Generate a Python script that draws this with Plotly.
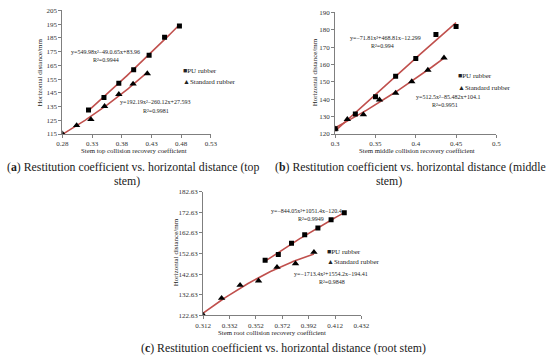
import numpy as np
import plotly.graph_objects as go

# ---------------- data ----------------
# (a) top stem
a_pu_x = [0.324, 0.350, 0.375, 0.400, 0.426, 0.452, 0.477]
a_pu_y = [132.5, 141.6, 152.0, 161.8, 172.3, 185.4, 193.6]
a_std_x = [0.280, 0.304, 0.328, 0.351, 0.375, 0.399, 0.423]
a_std_y = [115.3, 121.3, 125.6, 135.2, 143.9, 151.5, 159.0]
# (b) middle stem
b_pu_x = [0.300, 0.325, 0.350, 0.375, 0.400, 0.425, 0.450]
b_pu_y = [123.0, 131.5, 141.5, 153.3, 163.5, 177.3, 181.9]
b_std_x = [0.300, 0.315, 0.335, 0.355, 0.375, 0.395, 0.415, 0.435]
b_std_y = [123.0, 128.5, 131.2, 139.7, 143.6, 150.2, 156.8, 163.8]
# (c) root stem
c_pu_x = [0.359, 0.369, 0.379, 0.389, 0.399, 0.409, 0.419]
c_pu_y = [149.4, 152.2, 157.6, 161.7, 165.0, 169.0, 172.4]
c_std_x = [0.312, 0.326, 0.340, 0.354, 0.368, 0.382, 0.396]
c_std_y = [122.8, 131.0, 137.3, 139.4, 146.0, 147.8, 153.3]

series_names = ["PU rubber", "Standard rubber"]
eq_texts = {
    "a_pu": ["y=549.98x²−49.0.65x+83.96", "R²=0.9944"],
    "a_std": ["y=192.19x²−260.12x+27.593", "R²=0.9981"],
    "b_pu": ["y=−71.81x²+468.81x−12.299", "R²=0.994"],
    "b_std": ["y=512.5x²−85.482x+104.1", "R²=0.9951"],
    "c_pu": ["y=−844.05x²+1051.4x−120.4", "R²=0.9949"],
    "c_std": ["y=−1713.4x²+1554.2x−194.41", "R²=0.9848"],
}
x_titles = ["Stem top collision recovery coefficient",
            "Stem middle collision recovery coefficient",
            "Stem root collision recovery coefficient"]
y_title = "Horizontal distance/mm"
captions = [("(<b>a</b>) Restitution coefficient vs. horizontal distance (top", "stem)"),
            ("(<b>b</b>) Restitution coefficient vs. horizontal distance (middle", "stem)"),
            ("(<b>c</b>) Restitution coefficient vs. horizontal distance (root stem)", None)]

W, H = 550, 359
FONT = "Liberation Serif"
RED = "#C0504D"


def P(x, y):
    return x / W, 1 - y / H


fig = go.Figure()

panels = [
    ("", a_pu_x, a_pu_y, a_std_x, a_std_y),
    ("2", b_pu_x, b_pu_y, b_std_x, b_std_y),
    ("3", c_pu_x, c_pu_y, c_std_x, c_std_y),
]

for suf, px_, py_, sx_, sy_ in panels:
    xa, ya = "x" + suf, "y" + suf
    for xs, ys in ((px_, py_), (sx_, sy_)):
        coef = np.polyfit(xs, ys, 2)
        xx = np.linspace(min(xs), max(xs), 80)
        fig.add_trace(go.Scatter(x=xx, y=np.polyval(coef, xx), mode="lines",
                                 line=dict(color=RED, width=1.6), showlegend=False,
                                 xaxis=xa, yaxis=ya, hoverinfo="skip"))
    fig.add_trace(go.Scatter(x=sx_, y=sy_, mode="markers", name=series_names[1],
                             marker=dict(symbol="triangle-up", size=6.5, color="black"),
                             showlegend=False, xaxis=xa, yaxis=ya))
    fig.add_trace(go.Scatter(x=px_, y=py_, mode="markers", name=series_names[0],
                             marker=dict(symbol="square", size=5, color="black"),
                             showlegend=False, xaxis=xa, yaxis=ya))


def px_domain(a, b):
    return [a / W, b / W]


def py_domain(top, bottom):
    return [1 - bottom / H, 1 - top / H]


axis_common = dict(showline=True, linecolor="#7f7f7f", linewidth=1, ticks="outside",
                   ticklen=3, tickcolor="#7f7f7f", showgrid=False, zeroline=False,
                   tickfont=dict(family=FONT, size=7, color="#333333"))

fig.update_layout(
    width=W, height=H, margin=dict(l=0, r=0, t=0, b=0),
    paper_bgcolor="white", plot_bgcolor="white", showlegend=False,
    xaxis=dict(domain=px_domain(56, 209), range=[0.28, 0.53], tick0=0.28, dtick=0.05,
               tickformat=".2f", anchor="y", **axis_common),
    yaxis=dict(domain=py_domain(6.5, 133), range=[115, 205], tick0=115, dtick=10,
               anchor="x", **axis_common),
    xaxis2=dict(domain=px_domain(337, 503), range=[0.3, 0.5], tick0=0.3, dtick=0.05,
                anchor="y2", **axis_common),
    yaxis2=dict(domain=py_domain(8.5, 133), range=[120, 190], tick0=120, dtick=10,
                anchor="x2", **axis_common),
    xaxis3=dict(domain=px_domain(201, 364), range=[0.312, 0.432], tick0=0.312, dtick=0.02,
                tickformat=".3f", anchor="y3", **axis_common),
    yaxis3=dict(domain=py_domain(192, 318.5), range=[122.63, 182.63], tick0=122.63, dtick=10,
                tickformat=".2f", anchor="x3", **axis_common),
)

ann = []


def add_text(text, x, y, size=7, anchor="center", angle=0, color="#222222"):
    xx, yy = P(x, y)
    ann.append(dict(text=text, x=xx, y=yy, xref="paper", yref="paper", showarrow=False,
                    xanchor=anchor, yanchor="middle", textangle=angle,
                    font=dict(family=FONT, size=size, color=color)))


# axis titles
add_text(x_titles[0], 130, 149.5, size=6.8)
add_text(x_titles[1], 421, 149.5, size=6.8)
add_text(x_titles[2], 272, 335.5, size=6.8)
add_text(y_title, 33, 70, angle=-90)
add_text(y_title, 317, 70, angle=-90)
add_text(y_title, 173, 254, angle=-90)

# legends
for (lx, ly1, ly2) in ((178.5, 69, 80), (461.5, 74, 86), (326.5, 254, 264)):
    add_text("■" + series_names[0], lx, ly1, size=7, anchor="left")
    add_text("▲" + series_names[1], lx, ly2, size=7, anchor="left")

# equations
eq_pos = {
    "a_pu": ((100.5, 49.3), (101, 57.3)),
    "a_std": ((151.7, 100.7), (152, 109)),
    "b_pu": ((389, 35), (386, 43)),
    "b_std": ((453, 95), (450, 103)),
    "c_pu": ((307, 211.5), (312.5, 219.5)),
    "c_std": ((333, 276.5), (334, 284.5)),
}
for k, (p1, p2) in eq_pos.items():
    add_text(eq_texts[k][0], p1[0], p1[1], size=6)
    add_text(eq_texts[k][1], p2[0], p2[1], size=6)

# captions
add_text(captions[0][0], 128.5, 166.5, size=11.8, color="#1a1a1a")
add_text(captions[0][1], 122.5, 181.5, size=11.8, color="#1a1a1a")
add_text(captions[1][0], 415, 166.5, size=11.8, color="#1a1a1a")
add_text(captions[1][1], 392, 181.5, size=11.8, color="#1a1a1a")
add_text(captions[2][0], 284, 351.5, size=11.8, color="#1a1a1a")

fig.update_layout(annotations=ann)
fig.write_html("out.html", config={"displayModeBar": False},
               post_script="document.body.style.margin='0';document.body.style.overflow='hidden';")
